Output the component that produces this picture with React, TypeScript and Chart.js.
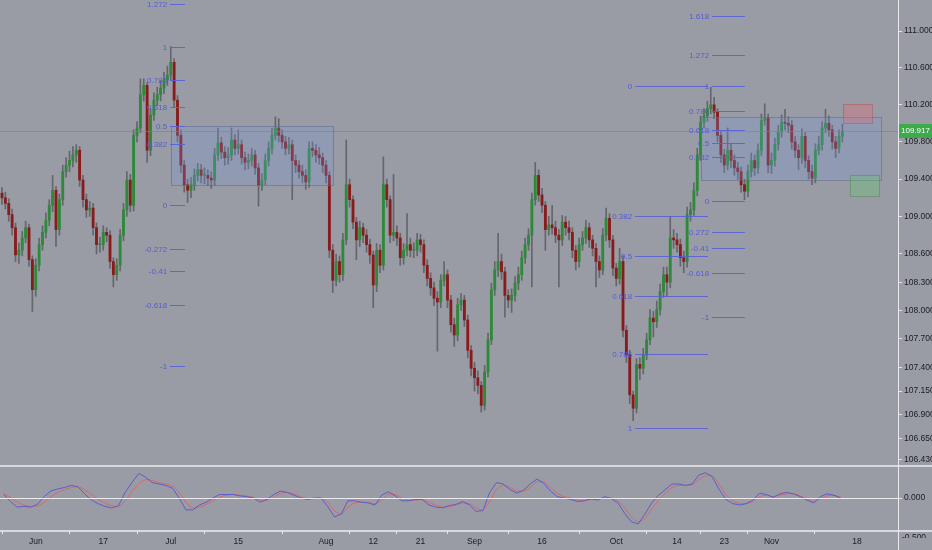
import React, { useEffect, useRef } from 'react';
import { Chart, registerables } from 'chart.js';

Chart.register(...registerables);

// ---------- DATA ----------
const firstOpen = 109.25;
const closes = [
  109.20,109.14,109.02,108.88,108.59,108.64,108.77,108.88,108.54,108.22,
  108.48,108.70,108.83,108.96,109.12,109.28,108.86,109.18,109.48,109.55,
  109.60,109.66,109.71,109.39,109.18,109.07,109.09,108.88,108.70,108.70,
  108.83,108.80,108.52,108.38,108.48,108.80,109.07,109.39,109.12,109.87,
  109.95,110.31,110.41,109.71,110.09,110.25,110.31,110.38,110.47,110.52,
  110.66,110.25,109.87,109.55,109.34,109.28,109.34,109.44,109.50,109.44,
  109.44,109.41,109.39,109.66,109.79,109.69,109.63,109.66,109.82,109.73,
  109.77,109.63,109.58,109.60,109.66,109.52,109.34,109.39,109.60,109.73,
  109.87,109.95,109.87,109.80,109.73,109.77,109.60,109.55,109.48,109.44,
  109.37,109.73,109.71,109.66,109.63,109.55,109.44,108.64,108.32,108.52,
  108.38,108.75,109.34,109.18,108.94,108.75,108.88,108.80,108.70,108.59,
  108.27,108.64,108.48,109.34,109.18,108.80,108.83,108.77,108.56,108.64,
  108.70,108.64,108.64,108.75,108.70,108.48,108.34,108.24,108.13,108.09,
  108.32,108.38,108.11,107.85,107.74,108.06,108.11,107.90,107.58,107.39,
  107.29,107.21,107.00,107.35,107.69,108.22,108.43,108.52,108.41,108.16,
  108.11,108.16,108.29,108.38,108.56,108.70,108.80,109.18,109.44,109.23,
  109.12,108.86,108.91,108.88,108.80,108.75,108.94,108.88,108.83,108.64,
  108.52,108.70,108.77,108.88,108.75,108.66,108.52,108.43,108.80,108.98,
  108.75,108.45,108.34,108.52,107.79,107.53,107.11,106.97,107.43,107.39,
  107.53,107.69,107.92,107.88,108.01,108.20,108.38,108.30,108.77,108.75,
  108.70,108.56,108.52,109.02,109.07,109.28,109.66,110.01,110.08,110.16,
  110.20,110.12,109.87,109.66,109.55,109.71,109.60,109.52,109.48,109.34,
  109.27,109.48,109.60,109.52,109.71,110.03,110.06,109.55,109.60,109.77,
  109.91,110.01,110.00,109.98,109.80,109.71,109.63,109.86,109.60,109.48,
  109.41,109.71,109.77,109.95,110.00,109.93,109.80,109.73,109.86,109.917,
];
const highs = [
  109.31,109.26,109.19,109.08,108.93,108.72,108.84,108.95,108.92,108.58,
  108.55,108.77,108.90,109.04,109.18,109.44,109.32,109.24,109.55,109.63,
  109.70,109.75,109.77,109.75,109.44,109.24,109.16,109.14,108.93,108.78,
  108.90,108.88,108.85,108.56,108.55,108.86,109.14,109.48,109.45,109.93,
  110.02,110.48,110.48,110.44,110.16,110.33,110.39,110.46,110.55,110.62,
  110.83,110.70,110.30,109.93,109.60,109.40,109.42,109.51,109.57,109.56,
  109.52,109.50,109.48,109.73,109.95,109.85,109.75,109.74,109.95,109.88,
  109.93,109.82,109.69,109.67,109.73,109.71,109.57,109.46,109.67,109.80,
  109.95,110.07,110.05,109.93,109.86,109.85,109.82,109.66,109.60,109.55,
  109.50,109.80,109.80,109.77,109.74,109.68,109.60,109.48,108.70,108.60,
  108.58,108.82,109.82,109.40,109.22,108.99,108.95,108.93,108.86,108.76,
  108.63,108.71,108.70,109.64,109.40,109.22,109.45,108.90,108.82,108.71,
  109.03,108.77,108.72,108.82,108.81,108.75,108.54,108.40,108.30,108.20,
  108.38,108.52,108.43,108.16,107.92,108.13,108.18,108.16,107.95,107.63,
  107.45,107.36,107.25,107.42,107.76,108.29,108.52,108.82,108.60,108.46,
  108.22,108.23,108.36,108.46,108.63,108.77,108.87,109.25,109.58,109.50,
  109.30,109.16,109.00,109.12,108.95,108.86,109.01,109.00,108.95,108.88,
  108.69,108.77,108.84,108.96,108.93,108.80,108.71,108.58,108.87,109.09,
  109.03,108.80,108.50,108.66,108.58,107.84,107.58,107.15,107.49,107.50,
  107.60,107.76,108.01,107.99,108.10,108.28,108.46,108.46,109.00,108.86,
  108.82,108.76,108.63,109.10,109.15,109.36,109.73,110.08,110.16,110.24,
  110.39,110.28,110.16,109.92,109.72,109.95,109.78,109.66,109.58,109.53,
  109.40,109.55,109.68,109.66,109.78,110.10,110.21,110.10,109.68,109.84,
  109.98,110.09,110.15,110.07,110.03,109.86,109.77,109.94,109.90,109.65,
  109.55,109.78,109.86,110.02,110.15,110.08,109.98,109.86,109.93,109.99,
];
const lows = [
  109.13,109.08,108.95,108.80,108.52,108.50,108.58,108.72,108.47,107.99,
  108.15,108.42,108.64,108.77,108.90,109.05,108.68,108.80,109.12,109.42,
  109.48,109.53,109.58,109.32,109.10,108.99,109.00,108.80,108.60,108.62,
  108.64,108.73,108.45,108.25,108.32,108.42,108.74,109.00,109.05,109.06,
  109.80,109.90,110.24,109.58,109.65,110.03,110.19,110.24,110.32,110.41,
  110.46,110.18,109.80,109.47,109.26,109.15,109.20,109.28,109.38,109.36,
  109.35,109.33,109.30,109.33,109.60,109.62,109.55,109.56,109.60,109.66,
  109.67,109.56,109.50,109.51,109.54,109.45,109.11,109.28,109.34,109.54,
  109.67,109.82,109.80,109.73,109.66,109.67,109.18,109.47,109.41,109.36,
  109.29,109.31,109.64,109.58,109.56,109.47,109.36,108.56,108.19,108.26,
  108.30,108.32,108.70,109.10,108.87,108.54,108.68,108.72,108.62,108.50,
  108.03,108.20,108.40,108.43,109.10,108.72,108.74,108.69,108.48,108.49,
  108.58,108.57,108.56,108.58,108.62,108.40,108.26,108.16,108.05,107.57,
  108.03,108.26,108.03,107.77,107.62,107.68,108.00,107.83,107.50,107.31,
  107.15,107.12,106.93,106.95,107.30,107.64,108.16,108.36,108.33,107.93,
  108.03,107.98,108.10,108.22,108.32,108.50,108.64,108.25,109.12,109.16,
  109.04,108.64,108.80,108.81,108.72,108.25,108.69,108.80,108.75,108.56,
  108.43,108.46,108.64,108.71,108.67,108.58,108.25,108.35,108.38,108.74,
  108.67,108.37,108.26,108.28,107.72,107.45,107.02,106.84,106.92,107.27,
  107.33,107.48,107.64,107.72,107.82,107.95,108.14,108.15,108.24,108.66,
  108.62,108.47,108.40,108.46,108.95,109.01,109.22,109.60,109.95,110.02,
  110.10,110.05,109.80,109.58,109.47,109.50,109.52,109.44,109.40,109.26,
  109.18,109.21,109.42,109.44,109.46,109.65,109.98,109.47,109.46,109.54,
  109.71,109.85,109.93,109.90,109.72,109.63,109.50,109.57,109.52,109.40,
  109.34,109.36,109.66,109.71,109.90,109.86,109.72,109.63,109.68,109.80,
];

// oscillator: one value per trading day (two bars)
const oscFast = [
  0.05,-0.05,-0.13,-0.12,-0.13,-0.09,0.02,0.10,0.13,0.15,
  0.18,0.16,0.06,-0.03,-0.08,-0.12,-0.14,-0.11,0.08,0.22,
  0.35,0.30,0.22,0.20,0.18,0.14,0.00,-0.17,-0.17,-0.10,
  -0.06,0.00,0.05,0.05,0.05,0.03,0.02,0.00,-0.06,-0.02,
  0.05,0.10,0.08,0.04,0.00,-0.02,0.00,0.00,-0.12,-0.27,
  -0.23,-0.04,-0.04,-0.06,-0.07,-0.10,0.04,0.09,0.03,-0.04,
  -0.04,-0.02,-0.02,-0.10,-0.13,-0.14,-0.11,-0.09,-0.05,-0.10,
  -0.19,-0.18,0.08,0.22,0.20,0.12,0.07,0.11,0.20,0.27,
  0.21,0.10,0.02,0.00,-0.02,-0.05,-0.04,-0.01,-0.03,0.02,
  -0.01,-0.07,-0.22,-0.34,-0.37,-0.23,-0.07,0.04,0.12,0.20,
  0.20,0.18,0.20,0.33,0.36,0.30,0.12,-0.02,-0.08,-0.10,
  -0.08,-0.03,0.07,0.05,0.01,0.06,0.08,0.06,0.02,-0.03,
  -0.07,0.02,0.06,0.04,0.00,
];
const oscSignal = [
  0.06,0.01,-0.06,-0.10,-0.12,-0.11,-0.06,0.02,0.08,0.12,
  0.15,0.16,0.12,0.05,-0.02,-0.07,-0.11,-0.12,-0.04,0.09,
  0.20,0.26,0.25,0.22,0.20,0.17,0.08,-0.06,-0.14,-0.13,
  -0.09,-0.04,0.01,0.04,0.05,0.04,0.03,0.01,-0.03,-0.03,
  0.01,0.07,0.08,0.06,0.02,-0.01,-0.01,0.00,-0.06,-0.18,
  -0.23,-0.13,-0.07,-0.06,-0.06,-0.08,-0.03,0.05,0.05,0.00,
  -0.03,-0.03,-0.02,-0.06,-0.10,-0.13,-0.12,-0.10,-0.07,-0.08,
  -0.14,-0.17,-0.05,0.12,0.18,0.15,0.10,0.10,0.15,0.23,
  0.23,0.15,0.07,0.02,0.00,-0.03,-0.04,-0.02,-0.02,0.00,
  0.00,-0.04,-0.14,-0.27,-0.34,-0.29,-0.16,-0.03,0.07,0.15,
  0.18,0.18,0.19,0.26,0.32,0.32,0.20,0.05,-0.04,-0.08,
  -0.08,-0.05,0.02,0.04,0.02,0.04,0.06,0.06,0.03,-0.01,
  -0.05,-0.01,0.03,0.04,0.01,
];

const priceTicks = [111, 110.6, 110.2, 109.8, 109.4, 109, 108.6, 108.3, 108, 107.7, 107.4, 107.15, 106.9, 106.65, 106.43];
const oscTicks = [0];
const dateLabels = ['Jun', '17', 'Jul', '15', 'Aug', '12', '21', 'Sep', '16', 'Oct', '14', '23', 'Nov', '18'];
const dateBars = [10, 30, 50, 70, 96, 110, 124, 140, 160, 182, 200, 214, 228, 253.3];

const lastPrice = 109.917;

const fibLevelsA = [1.272, 1, 0.786, 0.618, 0.5, 0.382, 0, -0.272, -0.41, -0.618, -1];
const fibLevelsB = [0, 0.382, 0.5, 0.618, 0.786, 1];
const fibLevelsC = [1.618, 1.272, 1, 0.786, 0.618, 0.5, 0.382, 0, -0.272, -0.41, -0.618, -1];
const fibs = [
  { fromBar: 49.8, toBar: 54.2, p0: 109.12, p1: 110.83, levels: fibLevelsA },
  { fromBar: 187.6, toBar: 209.2, p0: 110.40, p1: 106.76, levels: fibLevelsB },
  { fromBar: 210.4, toBar: 220.1, p0: 109.166, p1: 110.403, levels: fibLevelsC },
];
const zones = [
  { fromBar: 50.1, toBar: 98.1, top: 109.97, bottom: 109.34, fill: 'rgba(120,150,220,0.26)', stroke: 'rgba(95,105,140,0.55)' },
  { fromBar: 207.1, toBar: 260.4, top: 110.07, bottom: 109.39, fill: 'rgba(120,150,220,0.26)', stroke: 'rgba(95,105,140,0.55)' },
  { fromBar: 249.2, toBar: 257.8, top: 110.21, bottom: 110.006, fill: 'rgba(220,110,120,0.38)', stroke: 'rgba(170,95,100,0.6)' },
  { fromBar: 251.3, toBar: 259.9, top: 109.445, bottom: 109.22, fill: 'rgba(100,200,110,0.35)', stroke: 'rgba(90,140,95,0.6)' },
];

// ---------- STYLE ----------
const BG = '#9a9ca5';
const FONT = '"Liberation Sans", Arial, sans-serif';
const TEXT = '#1c1c20';
const FIB_LINE = 'rgba(88,96,215,0.9)';
const FIB_TEXT = 'rgba(84,92,212,1)';

const overlay = {
  id: 'overlay',
  beforeDraw(chart: any) {
    const { ctx, width, height } = chart;
    ctx.save();
    ctx.fillStyle = BG;
    ctx.fillRect(0, 0, width, height);
    ctx.restore();
  },
  afterDatasetsDraw(chart: any) {
    const { ctx, chartArea } = chart;
    const xs = chart.scales.x;
    const ys = chart.scales.y;
    const y2 = chart.scales.y2;
    ctx.save();
    ctx.beginPath();
    ctx.rect(chartArea.left, ys.top, chartArea.right - chartArea.left, ys.bottom - ys.top);
    ctx.clip();

    // current price line
    const yp = Math.round(ys.getPixelForValue(lastPrice)) + 0.5;
    ctx.strokeStyle = 'rgba(60,170,75,0.6)';
    ctx.lineWidth = 1;
    ctx.beginPath();
    ctx.moveTo(chartArea.left, yp);
    ctx.lineTo(chartArea.right, yp);
    ctx.stroke();

    // zones
    for (const z of zones) {
      const x0 = xs.getPixelForValue(z.fromBar);
      const x1 = xs.getPixelForValue(z.toBar);
      const t = ys.getPixelForValue(z.top);
      const b = ys.getPixelForValue(z.bottom);
      ctx.fillStyle = z.fill;
      ctx.fillRect(x0, t, x1 - x0, b - t);
      ctx.strokeStyle = z.stroke;
      ctx.lineWidth = 1;
      ctx.strokeRect(Math.round(x0) + 0.5, Math.round(t) + 0.5, Math.round(x1 - x0), Math.round(b - t));
    }

    // fib levels
    ctx.font = `8px ${FONT}`;
    ctx.textAlign = 'right';
    ctx.textBaseline = 'middle';
    for (const f of fibs) {
      const x0 = xs.getPixelForValue(f.fromBar);
      const x1 = xs.getPixelForValue(f.toBar);
      for (const lv of f.levels) {
        const price = f.p0 + lv * (f.p1 - f.p0);
        const y = Math.round(ys.getPixelForValue(price)) + 0.5;
        ctx.strokeStyle = FIB_LINE;
        ctx.lineWidth = 1;
        ctx.beginPath();
        ctx.moveTo(x0, y);
        ctx.lineTo(x1, y);
        ctx.stroke();
        ctx.fillStyle = FIB_TEXT;
        ctx.fillText(String(lv), x0 - 3, y);
      }
    }
    ctx.restore();

    // oscillator zero line
    ctx.save();
    const yz = Math.round(y2.getPixelForValue(0)) + 0.5;
    ctx.strokeStyle = 'rgba(245,245,245,0.9)';
    ctx.lineWidth = 1;
    ctx.beginPath();
    ctx.moveTo(chartArea.left, yz);
    ctx.lineTo(chartArea.right, yz);
    ctx.stroke();
    ctx.restore();
  },
  afterDraw(chart: any) {
    const { ctx, chartArea, width, height } = chart;
    const ys = chart.scales.y;
    const y2 = chart.scales.y2;
    ctx.save();
    ctx.strokeStyle = 'rgba(240,240,242,0.95)';
    ctx.lineWidth = 1.5;
    ctx.beginPath();
    ctx.moveTo(0, ys.bottom);
    ctx.lineTo(width, ys.bottom);
    ctx.moveTo(0, chartArea.bottom);
    ctx.lineTo(width, chartArea.bottom);
    ctx.stroke();
    ctx.lineWidth = 1;
    ctx.beginPath();
    ctx.moveTo(chartArea.right + 0.5, 0);
    ctx.lineTo(chartArea.right + 0.5, height);
    ctx.stroke();

    // last price label
    const yp = ys.getPixelForValue(lastPrice);
    const boxW = width - chartArea.right - 1;
    ctx.fillStyle = '#3daa4c';
    ctx.fillRect(chartArea.right + 1, yp - 7, boxW, 14);
    ctx.fillStyle = '#ffffff';
    ctx.font = `8px ${FONT}`;
    ctx.textAlign = 'center';
    ctx.textBaseline = 'middle';
    ctx.fillText(lastPrice.toFixed(3), chartArea.right + 1 + boxW / 2, yp);

    // partially hidden oscillator label
    ctx.beginPath();
    ctx.rect(chartArea.right + 1, chartArea.bottom + 1, width - chartArea.right, 6);
    ctx.clip();
    ctx.fillStyle = TEXT;
    ctx.font = `8.5px ${FONT}`;
    ctx.textAlign = 'left';
    ctx.fillText((-0.5).toFixed(3), chartArea.right + 4, y2.getPixelForValue(-0.5) + 5);
    ctx.restore();
  },
};

export default function App() {
  const ref = useRef<HTMLCanvasElement | null>(null);

  useEffect(() => {
    document.body.style.margin = '0';
    const canvas = ref.current;
    if (!canvas) return;

    const opens = closes.map((c, i) => (i === 0 ? firstOpen : closes[i - 1]));
    const wicks = closes.map((c, i) => ({ x: i, y: [lows[i], highs[i]] }));
    const bodies = closes.map((c, i) => ({ x: i, y: [opens[i], c] }));
    const bodyColors = closes.map((c, i) => (c >= opens[i] ? '#2c8a38' : '#8a1b1b'));
    const fastPts = oscFast.map((v, k) => ({ x: 2 * k + 0.5, y: v }));
    const sigPts = oscSignal.map((v, k) => ({ x: 2 * k + 0.5, y: v }));

    const tickFont = { family: FONT, size: 8.5 };
    const axisGrid = { display: true, drawOnChartArea: false, drawTicks: true, tickLength: 4, color: 'rgba(235,235,238,0.9)' };
    const fitV = (s: any) => {
      s.width = 34;
      s.paddingTop = 0;
      s.paddingBottom = 0;
    };

    const chart = new Chart(canvas, {
      data: {
        datasets: [
          {
            type: 'bar',
            data: wicks as any,
            yAxisID: 'y',
            backgroundColor: 'rgba(92,92,98,0.85)',
            borderWidth: 0,
            grouped: false,
            categoryPercentage: 1,
            barPercentage: 1,
            maxBarThickness: 1,
            order: 2,
          },
          {
            type: 'bar',
            data: bodies as any,
            yAxisID: 'y',
            backgroundColor: bodyColors,
            borderWidth: 0,
            grouped: false,
            categoryPercentage: 1,
            barPercentage: 1,
            maxBarThickness: 2.2,
            minBarLength: 1,
            order: 1,
          },
          {
            type: 'line',
            data: fastPts as any,
            yAxisID: 'y2',
            borderColor: '#5a5ecb',
            borderWidth: 1,
            pointRadius: 0,
            tension: 0,
            order: 0,
          },
          {
            type: 'line',
            data: sigPts as any,
            yAxisID: 'y2',
            borderColor: '#e0636a',
            borderWidth: 1,
            pointRadius: 0,
            tension: 0.3,
            order: 0,
          },
        ],
      },
      options: {
        responsive: false,
        animation: false,
        events: [],
        layout: { padding: 0 },
        plugins: { legend: { display: false }, tooltip: { enabled: false } },
        scales: {
          x: {
            type: 'linear',
            min: -0.593,
            max: 265.48,
            bounds: 'data',
            offset: false,
            afterBuildTicks: (s: any) => {
              s.ticks = dateBars.map((v) => ({ value: v }));
            },
            afterFit: (s: any) => {
              s.height = 19;
              s.paddingLeft = 0;
              s.paddingRight = 0;
            },
            grid: { ...axisGrid, tickLength: 3 },
            border: { display: false },
            ticks: {
              autoSkip: false,
              maxRotation: 0,
              minRotation: 0,
              padding: 3,
              font: tickFont,
              color: TEXT,
              callback: (_v: any, i: number) => dateLabels[i],
            },
          },
          y: {
            type: 'logarithmic',
            position: 'right',
            stack: 'pane',
            stackWeight: 466,
            min: 106.366,
            max: 111.338,
            bounds: 'data',
            afterBuildTicks: (s: any) => {
              s.ticks = priceTicks.map((v) => ({ value: v }));
            },
            afterFit: fitV,
            grid: axisGrid,
            border: { display: false },
            ticks: {
              autoSkip: false,
              padding: 2,
              font: tickFont,
              color: TEXT,
              callback: (v: any) => Number(v).toFixed(3),
            },
          },
          y2: {
            type: 'linear',
            position: 'right',
            stack: 'pane',
            stackWeight: 65,
            min: -0.471,
            max: 0.457,
            bounds: 'data',
            afterBuildTicks: (s: any) => {
              s.ticks = oscTicks.map((v) => ({ value: v }));
            },
            afterFit: fitV,
            grid: axisGrid,
            border: { display: false },
            ticks: {
              autoSkip: false,
              padding: 2,
              font: tickFont,
              color: TEXT,
              callback: (v: any) => Number(v).toFixed(3),
            },
          },
        },
      } as any,
      plugins: [overlay],
    });

    return () => chart.destroy();
  }, []);

  return (
    <div style={{ width: 932, height: 550 }}>
      <canvas ref={ref} width={932} height={550} style={{ display: 'block', width: 932, height: 550 }} />
    </div>
  );
}
